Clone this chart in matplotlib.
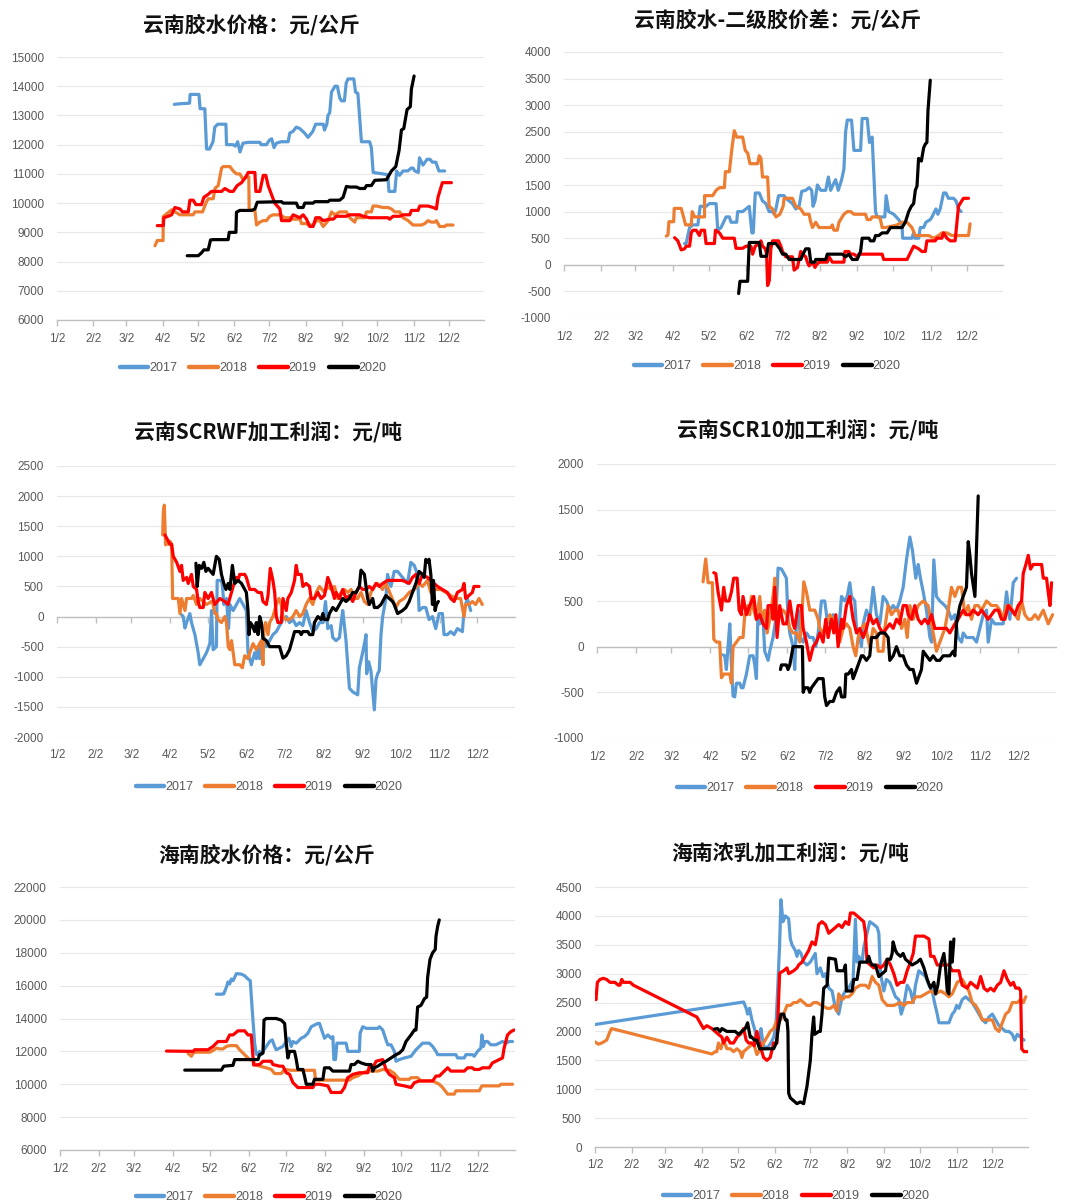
import matplotlib
matplotlib.use("Agg")
import matplotlib.pyplot as plt
from matplotlib import font_manager
from matplotlib.lines import Line2D
import numpy as np

# ---------------------------------------------------------------- fonts
_names = {f.name for f in font_manager.fontManager.ttflist}
if "Liberation Sans Narrow" in _names:
    NUM_FONT, NUM_SIZE = "Liberation Sans Narrow", 10
else:
    NUM_FONT, NUM_SIZE = "Liberation Sans", 8.5
plt.rcParams["font.family"] = [NUM_FONT, "Noto Sans CJK SC", "DejaVu Sans"]
plt.rcParams["axes.unicode_minus"] = False
TITLE_FAMILY = ["Noto Sans CJK SC", "DejaVu Sans"]

# ---------------------------------------------------------------- shared axis data
YEARS = ["2017", "2018", "2019", "2020"]
COLORS = ["#5B9BD5", "#ED7D31", "#FF0000", "#000000"]
MONTH_DAYS = [2, 33, 61, 92, 122, 153, 183, 214, 245, 275, 306, 336]   # day of year of each "m/2"
MONTH_LABELS = ["1/2", "2/2", "3/2", "4/2", "5/2", "6/2", "7/2", "8/2", "9/2", "10/2", "11/2", "12/2"]

# ---------------------------------------------------------------- 云南胶水价格 (day of year, 元/公斤)
yn_price_2017 = [(102,13380),(107,13400),(115,13420),(115.5,13720),(123,13720),(124,13230),(128,13230),(129.5,11850),(132,11850),(135,12100),(136.5,12600),(139,12700),(146,12700),(146.5,12000),(152,12000),(154,11950),(156,12100),(158,11750),(160.5,12050),(165,12080),(175,12080),(176,12000),(180.5,12000),(183,12150),(185,12200),(187,11900),(189,12050),(193,12100),(199,12100),(200.5,12400),(203,12450),(206,12600),(209,12550),(213,12400),(216,12250),(219,12400),(220,12450),(222.5,12700),(229,12700),(230,12500),(232,12700),(233,13000),(234.5,13100),(236,13800),(239,14000),(241,14000),(243,13600),(244.5,13500),(247,13500),(248.5,14100),(250,14250),(255,14250),(256.5,13800),(258.5,13750),(261.5,12100),(268.5,12100),(270,11900),(271.5,11050),(283,10980),(284,10950),(285,10400),(290,10400),(291.5,11100),(294,10950),(297,11100),(301,11100),(304,11200),(305.5,11200),(307,11100),(310,11050),(311,11550),(314,11300),(317.5,11500),(320,11500),(322,11400),(325,11400),(327.5,11100),(332.5,11100)]
yn_price_2018 = [(85.5,8540),(87.5,8720),(92.4,8720),(92.6,9540),(99.7,9770),(106.8,9600),(118.1,9600),(119.5,9700),(126.1,9700),(128.9,10000),(130.9,10150),(135.2,10150),(136.6,10500),(139.4,10600),(142.3,11200),(143.7,11250),(149.4,11250),(152.2,11100),(155,11000),(157.9,11000),(160.7,10800),(163.6,10900),(165.5,10900),(165.8,9800),(167,9750),(170.7,9750),(172.1,9250),(174.9,9350),(177.8,9400),(180.6,9400),(183.4,9550),(186.3,9600),(192,9600),(196.2,9500),(200.5,9500),(203.3,9450),(207.6,9450),(209,9500),(210.4,9300),(214.7,9300),(216.1,9250),(220.3,9250),(223.2,9400),(226,9400),(228.9,9200),(233.1,9400),(236,9700),(238.8,9600),(243,9700),(248.7,9700),(251.6,9500),(255.8,9350),(257.2,9500),(264.3,9500),(265.8,9700),(270,9700),(271.4,9900),(274.3,9900),(279.9,9850),(284.2,9850),(287.1,9800),(289.9,9700),(294.2,9700),(297,9500),(301.3,9400),(305.5,9250),(312.6,9250),(315.5,9300),(318.3,9400),(321.1,9350),(324,9350),(325.4,9400),(328.2,9200),(332.5,9200),(333.9,9250),(339.6,9250)]
yn_price_2019 = [(87.5,9230),(92.6,9230),(93.1,9500),(96.8,9550),(99.7,9600),(102.5,9850),(106.8,9800),(109,9700),(113.9,9700),(115.3,10100),(118.1,10100),(120.4,9950),(125.2,9950),(127.2,10200),(130.9,10300),(133.7,10400),(142.3,10400),(145.1,10500),(149.4,10400),(152.2,10400),(155.6,10600),(159.3,10700),(163,10900),(165,11050),(170.7,11050),(171.5,10400),(174.9,10400),(177.8,10950),(180,10950),(182,10600),(184.8,10300),(187.6,10000),(192,9800),(193.4,9400),(200.5,9400),(203.3,9600),(209,9500),(211.8,9600),(214.7,9450),(217.5,9200),(220.3,9200),(222.6,9500),(226,9500),(228.9,9400),(234.5,9450),(237.4,9450),(240.2,9550),(248.7,9550),(251.6,9600),(260.1,9600),(262.9,9550),(268.6,9500),(284.2,9500),(285.6,9450),(288.5,9550),(294.2,9550),(297,9600),(302.7,9600),(304.1,9750),(309.8,9750),(311.2,9900),(318.3,9900),(322.6,9850),(325.4,9800),(326.8,10200),(330.5,10700),(338.2,10700)]
yn_price_2020 = [(113,8200),(122.4,8200),(125.2,8300),(127.2,8400),(130.9,8400),(132.9,8740),(135.2,8750),(147.9,8750),(148.8,9000),(154.5,9000),(155,9690),(157.9,9750),(167.8,9750),(170.7,9800),(172.7,10030),(193.4,10050),(194.8,10000),(206.1,10000),(207.6,9850),(211.8,9850),(213.2,10000),(220.3,10000),(221.8,10050),(233.1,10050),(234.5,10100),(243,10100),(245.9,10200),(248.7,10570),(251.6,10550),(257.2,10550),(260.1,10500),(264.3,10500),(265.8,10600),(270,10600),(272.9,10780),(282.8,10800),(287.1,11100),(290.8,11250),(293.6,11800),(295.6,12500),(297.6,12550),(300.4,13200),(303.2,13300),(304.1,13900),(306.4,14350)]

# ---------------------------------------------------------------- 云南胶水-二级胶价差
yn_spread_2017 = [(101.9,400),(103.3,400),(106.1,700),(108.8,750),(113,750),(114.9,1100),(119.8,1100),(122.6,1150),(128.1,1150),(129.5,650),(132.2,700),(136.4,900),(139.1,900),(140.5,800),(145.2,800),(146,1000),(150.1,1000),(152.9,1050),(155.6,1100),(157.8,600),(158.9,600),(160.6,1350),(163.9,1350),(166.6,1200),(169.4,1150),(172.1,1000),(174.9,1000),(176.3,950),(177.7,1050),(179.9,1300),(184.5,1300),(185.9,1250),(188.7,1200),(191.4,1150),(194.2,1050),(196.9,1100),(199.1,1380),(202.4,1400),(205.2,1450),(207.4,1400),(208.5,1100),(210.1,1200),(212.1,1500),(214.8,1400),(219,1400),(221.2,1650),(223.1,1400),(225,1500),(227.2,1600),(229.4,1400),(232.2,1600),(234.1,1800),(235.5,2500),(236.9,2720),(240.4,2720),(242.4,2150),(247.9,2150),(249.2,2750),(253.4,2750),(255.3,2300),(257.5,2400),(260.3,1000),(261.6,900),(268,900),(269.1,1300),(271.2,1000),(275.4,950),(279.5,850),(282.3,750),(282.8,500),(290.5,500),(291.9,600),(292.8,500),(296.1,500),(297.4,700),(300.2,700),(302.1,800),(305.7,850),(307.1,900),(310.4,1050),(312,950),(313.9,1050),(316.7,1350),(318.6,1350),(320.8,1250),(325,1250),(327.1,1200),(329.1,1050),(331.3,1000)]
yn_spread_2018 = [(86.8,540),(88.2,560),(89,810),(92.9,810),(93.4,1060),(99.2,1060),(101.1,900),(102.8,750),(107.5,750),(108.3,1000),(110.2,900),(118.5,900),(118.6,1300),(125.3,1300),(128.1,1400),(130.9,1450),(135,1450),(135.8,1750),(139.1,1750),(141.3,2200),(143.2,2520),(145.2,2400),(150.1,2400),(152.3,2150),(154.3,2100),(156.2,1900),(162.5,1900),(163.9,2050),(165.3,2000),(166.6,1650),(170.8,1650),(172.1,1100),(174.9,1050),(177.7,900),(181,950),(183.7,1100),(184.5,1250),(191.4,1250),(194.2,1100),(198.3,1050),(201.1,950),(205.2,950),(206.6,800),(208,700),(210.7,800),(213.5,700),(223.1,700),(224.5,750),(225.8,650),(228.6,650),(230,800),(234.1,950),(236.9,1000),(239.6,1000),(242.4,950),(252,950),(253.4,850),(256.1,850),(257.5,900),(263,900),(264.4,850),(265.8,700),(268.5,700),(278.2,750),(282.3,800),(286.4,800),(290.5,700),(293.3,550),(304.3,550),(308.4,500),(312.6,550),(315.3,600),(319.5,600),(323.6,550),(337.4,550),(338.7,770)]
yn_spread_2019 = [(93.7,510),(96.4,450),(99.2,280),(101.9,300),(103.3,350),(106.1,350),(107.5,600),(108.8,650),(111.6,650),(114.3,550),(115.7,650),(118.5,650),(119.8,400),(126.7,400),(127.6,650),(130.9,600),(133.6,500),(143.2,500),(144.6,310),(150.1,310),(152.9,350),(157,350),(158.4,200),(160.6,350),(163.9,400),(165.3,450),(166.6,350),(168.9,300),(170,200),(170.8,-390),(172.2,-300),(173.5,300),(174.9,450),(179.9,450),(181.8,350),(183.2,250),(185.9,150),(191.4,150),(192.8,-100),(195.6,-50),(196.9,100),(198.3,250),(199.7,200),(202.4,150),(203.8,50),(205.2,-20),(208,50),(210.1,-50),(211.3,0),(213.5,50),(220.3,50),(221.7,150),(224.5,50),(234.1,50),(234.9,250),(238.2,250),(239.6,200),(242.4,200),(245.1,150),(246.5,200),(265.8,200),(267.1,100),(286.4,100),(291.9,350),(296.1,300),(298.8,250),(301.6,250),(302.9,450),(309.8,450),(311.2,500),(315.3,500),(316.7,600),(319.5,500),(322.2,450),(326.3,450),(329.1,1100),(331.8,1200),(333.2,1250),(337.4,1250)]
yn_spread_2020 = [(146.8,-540),(147.9,-310),(154.3,-310),(155.6,420),(163.9,420),(165.3,160),(170,160),(171.6,400),(177.7,400),(181,300),(183.2,200),(185.9,200),(188.7,100),(198.3,100),(200.2,200),(202.4,300),(205.2,300),(206.6,50),(210.1,50),(210.7,100),(219,100),(220.3,200),(232.7,200),(235.5,150),(238.2,200),(241,100),(245.1,100),(247.9,250),(249.2,500),(254.8,500),(256.1,450),(258.9,450),(260.3,550),(263,550),(265.8,600),(269.9,600),(272.7,700),(282.3,700),(285,800),(287.8,1000),(290,1100),(291.9,1150),(293.3,1400),(294.7,1480),(296,2000),(298.3,1950),(300.2,2200),(301.6,2270),(302.9,2300),(303.8,2900),(305.7,3470)]

# ---------------------------------------------------------------- 云南SCRWF加工利润
yn_scrwf_2017 = [(101,30),(102.3,0),(103.7,-190),(105,-100),(107.6,50),(108.9,-100),(111.6,-300),(114.2,-600),(115.5,-800),(118.2,-700),(120.8,-600),(123.5,-450),(124.8,100),(126.1,-550),(128.7,-500),(129.3,600),(132.7,600),(133.5,500),(134.6,200),(136.7,300),(138.3,-200),(139.4,200),(142,100),(144.6,200),(147.2,300),(149.9,200),(152.5,100),(153.8,-600),(156.5,-800),(159.1,-600),(160.4,-700),(161.8,-500),(163.1,-700),(165.7,-300),(168.4,-500),(171,-400),(173.6,-300),(176.3,-250),(178.9,-150),(181.6,-50),(184.2,0),(186.8,-100),(189.5,-50),(192.1,-150),(194.8,-100),(197.4,-150),(200,100),(202.7,-100),(205.3,-250),(208,-200),(210.6,-100),(213.3,-100),(215.4,250),(217.2,-200),(219.9,-150),(221.2,-350),(223.8,-400),(226.5,-350),(227.8,-100),(229.1,100),(231.7,-400),(234.4,-1190),(237,-1250),(241,-1300),(242.3,-850),(244.9,-600),(246.8,-400),(247.6,-300),(248.1,-950),(249.7,-750),(251.5,-900),(254.2,-1550),(255.5,-1050),(256.8,-950),(258.1,-900),(259.5,-300),(260.8,0),(263.4,300),(264.7,700),(267.4,500),(270,750),(272.7,750),(276.6,650),(280.6,550),(283.2,900),(285.9,850),(288.5,700),(289.8,100),(292.5,150),(295.1,150),(297.7,-50),(300.4,0),(303,-200),(305.7,50),(308.3,50),(309.6,-300),(312.3,-300),(314.9,-250),(317.6,-300),(320.2,-200),(324.2,-250),(325.5,100),(328.1,300),(330.8,100)]
yn_scrwf_2018 = [(86,1355),(86.5,1740),(87.3,1850),(88.3,1190),(89.1,1250),(90.5,1200),(91.8,1250),(93.1,1200),(93.9,300),(98.4,300),(99.7,50),(101,300),(103.7,100),(105,300),(109,300),(110.3,350),(112.9,200),(115.5,300),(120.8,200),(124.8,250),(126.1,200),(127.4,50),(128.7,50),(130.1,-50),(132.7,-100),(135.4,0),(136.7,-100),(138.1,-500),(139.4,-550),(140.7,-400),(142,-600),(143.3,-800),(147.2,-800),(149.3,-850),(151.2,-650),(153.8,-700),(155.2,-600),(157.8,-450),(160.4,-550),(164.4,-400),(165.7,-800),(166.5,-200),(167.8,-100),(169.7,-300),(171,-100),(173.6,0),(176.3,200),(178.4,300),(180.2,200),(181.6,0),(184.2,-50),(186.8,-50),(189.5,0),(192.1,100),(194.8,0),(197.4,50),(200,200),(202.7,300),(205.3,200),(208,400),(210.6,500),(214.6,400),(217.2,500),(219.9,450),(222.5,500),(225.1,300),(227.8,400),(230.4,450),(233.1,400),(235.7,450),(238.3,300),(241,300),(243.6,400),(246.3,250),(248.9,200),(251.5,400),(254.2,500),(256.8,550),(260.8,450),(263.4,550),(267.4,350),(271.3,150),(274,250),(277.9,300),(281.9,400),(285.9,450),(289.8,550),(292.5,500),(296.4,600),(299.1,400),(303,450),(307,450),(311,400),(314.9,350),(318.9,300),(322.8,300),(325.5,0),(326.8,200),(329.4,200),(332.1,250),(334.7,200),(337.4,300),(340,200)]
yn_scrwf_2019 = [(87.8,1355),(90.5,1250),(91.8,1200),(93.1,1200),(94.4,1000),(97.1,900),(99.7,750),(101,850),(102.3,600),(105,650),(106.3,550),(108.9,700),(110.3,500),(112.9,450),(114.2,250),(115.5,150),(118.2,150),(119.5,400),(122.1,300),(124.8,400),(127.4,200),(131.4,300),(135.4,250),(138,200),(139.3,300),(142,500),(144.6,650),(145.9,600),(147.2,700),(151.2,700),(152.5,650),(155.2,450),(159.1,450),(161.8,400),(164.4,400),(165.7,250),(168.4,200),(169.7,350),(171.5,800),(173.6,600),(175,400),(176.3,0),(177.6,-100),(180.2,-100),(181.6,300),(184.2,100),(185.5,300),(188.2,400),(190.8,600),(192.1,850),(193.4,700),(196.1,700),(197.4,500),(200,550),(202.7,500),(204,300),(206.6,300),(209.3,400),(211.9,300),(214.6,350),(217.2,650),(219.9,500),(222.5,300),(223.8,400),(226.5,300),(229.1,450),(231.7,300),(234.4,350),(237,250),(239.7,400),(242.3,500),(244.9,450),(247.6,450),(250.2,500),(252.9,450),(255.5,550),(258.1,500),(260.8,550),(264.7,600),(276.6,600),(281.9,550),(284.5,650),(287.2,700),(289.8,550),(292.5,700),(296.4,650),(299.1,600),(301.7,550),(304.4,500),(308.3,450),(312.3,400),(314.9,300),(317.6,250),(320.2,400),(324.2,450),(325.5,550),(326.8,300),(329.4,350),(332.1,400),(333.4,500),(337.4,500)]
yn_scrwf_2020 = [(112.4,885),(113.4,500),(115,850),(116.9,800),(118.7,900),(120.3,750),(122.1,800),(126.1,700),(128.7,1000),(130.9,950),(132.7,700),(134.6,550),(136.3,450),(138.1,550),(139.4,450),(141.4,850),(143.3,550),(145.9,600),(148.6,550),(151.2,450),(152.5,400),(153.8,100),(154.6,-300),(155.7,-100),(157.3,-150),(159.1,-250),(160.4,-100),(161.8,-300),(163.1,0),(164.4,-100),(165.7,-360),(168.4,-400),(171,-500),(178.9,-500),(181.6,-690),(184.2,-650),(186.8,-550),(189.5,-350),(190.8,-250),(194.8,-250),(196.1,-300),(197.4,-250),(201.4,-250),(202.7,-300),(205.3,-300),(206.6,-100),(209.3,0),(211.9,-50),(213.3,50),(214.6,-50),(217.2,-50),(218.5,50),(221.2,150),(223.8,100),(226.5,200),(229.1,300),(231.7,250),(234.4,300),(237,400),(239.7,400),(242.3,500),(243.6,770),(246.3,700),(247.6,500),(248.9,300),(250.2,200),(252.9,300),(254.2,150),(256.8,150),(259.5,200),(262.1,300),(263.4,350),(266.1,300),(268.7,250),(270,200),(272.7,50),(276.6,100),(279.3,150),(281.9,250),(284.5,400),(287.2,550),(289.8,750),(292.5,700),(293.8,650),(295.1,950),(296.4,900),(297.7,950),(299.1,700),(300.4,200),(301.2,600),(302.5,100),(303.6,200),(305.1,250)]

# ---------------------------------------------------------------- 云南SCR10加工利润
yn_scr10_2017 = [(102,-90),(103.3,-100),(104.6,-250),(105.9,0),(107.3,250),(108.6,-200),(109.9,-540),(111.2,-550),(112.6,-400),(115.2,-400),(116.5,-450),(117.8,-450),(120.5,-300),(123.1,-100),(125.8,-100),(127.1,-200),(128.4,-350),(129.7,400),(131.1,250),(133.7,300),(135,-50),(137.7,-150),(139,-50),(141.6,100),(143.8,300),(145.6,860),(148.3,850),(152.2,750),(153.5,300),(154.9,150),(157.5,0),(158.8,-250),(160.2,300),(161.5,400),(163.3,100),(165.5,50),(168.1,150),(170.7,100),(173.4,100),(175.5,0),(177.4,150),(180,500),(182.6,500),(184.5,300),(186.6,250),(189.3,350),(191.9,200),(193.2,100),(195.9,550),(198.5,500),(200.4,550),(202.5,700),(203.8,550),(206.4,500),(207.8,200),(210.4,100),(211.7,0),(213.1,250),(215.7,400),(218.3,300),(221,650),(223.6,350),(226.3,250),(228.9,550),(231.6,500),(234.2,400),(236.9,450),(239.5,400),(242.1,500),(244.8,650),(247.4,950),(250.1,1200),(252.2,1050),(254.8,750),(256.7,900),(258.5,750),(260.7,600),(263.3,400),(266,100),(267.3,50),(269.1,950),(271.2,550),(273.9,500),(277.9,450),(280.5,400),(283.1,300),(285.8,350),(288.4,100),(291.1,50),(292.4,150),(295,100),(297.7,100),(300.3,100),(303,50),(305.6,200),(308.3,350),(310.9,400),(312.2,50),(314.9,300),(317.5,250),(320.2,250),(324.1,250),(326.8,600),(329.4,300),(332.1,700),(334.7,750)]
yn_scr10_2018 = [(86.1,710),(88.2,960),(90.1,700),(93.5,700),(94.6,80),(96.7,50),(99.3,50),(100.7,-340),(102.5,-300),(107.3,-300),(108.6,-400),(109.9,0),(112.6,50),(115.2,100),(117.8,100),(119.2,350),(121.8,450),(123.1,350),(124.5,550),(126.3,400),(128.4,300),(131.1,550),(132.4,300),(135,400),(136.9,150),(139,300),(141.6,550),(143,750),(144.8,300),(146.9,400),(149.6,400),(152.2,350),(154.9,200),(157.5,150),(160.2,150),(162.8,50),(164.9,450),(166,710),(168.1,600),(170.7,400),(174.7,400),(177.4,300),(178.7,200),(181.3,150),(184,250),(186.6,350),(189.3,300),(191.9,200),(194.5,50),(197.2,200),(199.8,250),(202.5,200),(205.1,0),(207.2,-100),(209.1,100),(211.7,200),(214.4,250),(218.3,0),(221,200),(223.6,150),(225,-50),(228.9,-50),(230.2,200),(232.9,450),(235.5,350),(238.2,400),(240.8,400),(243.5,200),(246.1,300),(248,100),(250.1,450),(252.7,300),(256.7,450),(260.7,500),(264.6,450),(267.3,250),(269.9,50),(271.2,-50),(273.9,50),(277.9,200),(280.5,400),(283.1,650),(285.8,550),(288.4,650),(291.1,650),(293.7,350),(296.4,450),(299,300),(301.7,450),(304.3,450),(307,400),(310.9,500),(314.9,450),(318.8,450),(321.5,400),(324.1,300),(326.8,450),(329.4,450),(333.4,350),(336,300),(338.7,500),(341.3,350),(344,300),(346.6,300),(349.3,350),(351.9,300),(355.9,400),(359.8,250),(363.3,350)]
yn_scr10_2019 = [(94.6,810),(96.2,800),(98,600),(100.7,400),(102.5,650),(104.1,500),(106.7,500),(108.6,600),(110.4,750),(113.1,750),(114.7,400),(116.5,350),(117.8,550),(120.5,350),(123.1,450),(126.3,550),(128.4,300),(131.1,350),(133.7,250),(136.4,200),(137.7,450),(140.3,450),(141.6,300),(143,650),(144.8,100),(146.9,450),(149.6,250),(152.2,250),(154.9,500),(157.5,250),(158.8,200),(161.5,450),(164.1,450),(165.5,200),(168.1,50),(170.7,-150),(173.4,0),(176,50),(178.7,150),(181.3,50),(183.4,300),(185.3,100),(187.9,300),(189.8,150),(191.4,350),(193.2,0),(195.9,300),(197.2,200),(199.8,450),(202.5,550),(205.1,300),(207.8,150),(210.4,200),(213.1,100),(215.7,200),(218.3,350),(221,250),(223.6,300),(226.3,200),(228.9,150),(231.6,200),(234.2,250),(236.9,200),(239.5,300),(242.1,250),(244.8,450),(247.4,450),(248.8,350),(251.4,300),(254,450),(256.7,300),(259.3,250),(262,300),(264.6,250),(267.3,350),(269.9,200),(273.9,200),(279.2,200),(281.8,150),(285.8,250),(288.4,300),(292.4,400),(295,350),(297.7,350),(300.3,400),(304.3,350),(307,400),(309.6,350),(312.2,300),(314.9,350),(317.5,400),(320.2,400),(322.8,300),(325.5,300),(328.1,450),(330.8,400),(333.4,350),(336,450),(338.7,500),(340,800),(342.1,900),(344,1000),(345.8,850),(347.9,900),(354.6,900),(355.9,750),(358.5,750),(359.8,600),(361.2,450),(362.5,700)]
yn_scr10_2020 = [(147.5,-250),(148.3,-200),(152.2,-200),(153.5,-250),(154.9,-200),(156.2,-100),(157.5,0),(164.9,0),(165.5,-500),(166.8,-450),(169.4,-450),(170.7,-500),(172.1,-450),(174.7,-400),(177.4,-350),(181.3,-350),(182.6,-550),(184,-645),(186.6,-600),(189.3,-600),(191.9,-500),(194.5,-450),(195.9,-550),(198.5,-550),(199.3,-300),(201.2,-300),(203.8,-250),(205.1,-350),(207.8,-250),(210.4,-150),(211.7,-100),(213.1,-100),(215.7,-150),(218.3,-100),(219.7,100),(223.6,100),(226.3,150),(230.2,150),(232.9,100),(234.2,-150),(236.9,-100),(239.5,0),(242.1,-100),(244.8,-100),(247.4,-200),(250.1,-250),(252.7,-250),(255.4,-400),(256.7,-350),(259.3,-250),(260.7,-50),(263.3,-100),(266,-150),(268.6,-100),(271.2,-150),(273.9,-150),(276.5,-100),(279.2,-100),(281.8,-100),(284.5,-50),(285.8,-100),(287.1,250),(289.8,450),(292.4,550),(295,650),(296.4,1150),(297.7,1000),(299,800),(301.7,550),(303,1100),(304.3,1650)]

# ---------------------------------------------------------------- 海南胶水价格
hn_price_2017 = [(127.1,15480),(131.9,15480),(133,15500),(135.1,15900),(136.4,16230),(137.7,16100),(139.1,16400),(140.4,16300),(141.7,16500),(143.1,16730),(147.1,16700),(149.7,16600),(152.4,16400),(154.2,16300),(155.8,14500),(157.7,12500),(159,11830),(160.4,11800),(161.7,12000),(163,11800),(164.4,12000),(167,12300),(169.7,12600),(171.8,12700),(173.7,12300),(175,12100),(177.7,12200),(180.3,12300),(183,12600),(185.1,12800),(187,12300),(188.3,12600),(191,12500),(192.3,12600),(195,12800),(197.6,12900),(200.3,13100),(203,13500),(205.6,13600),(208.3,13700),(209.6,13700),(210.9,13400),(213.6,12800),(216.3,13000),(218.9,12800),(220.3,12900),(221.1,11500),(222.4,11500),(223.5,12500),(230.9,12500),(232.2,12000),(241.5,12000),(242.1,13100),(244.2,13500),(246.9,13400),(256.2,13400),(257.6,13500),(260.2,13300),(261.5,13000),(262.8,12700),(264.2,12400),(266.8,12400),(269.5,12000),(270.8,11400),(273.5,11500),(277.5,11600),(282.8,11700),(286.8,12100),(289.5,12300),(292.1,12500),(297.4,12500),(300.1,12300),(302.8,12000),(304.1,11800),(308.1,11800),(318.7,11800),(320.1,11600),(325.4,11600),(326.7,11800),(332,11800),(333.4,11700),(336,12000),(338.7,12200),(339.5,13000),(340.6,12300),(342.2,12600),(344,12600),(346.7,12400),(350.7,12400),(353.3,12500),(356,12600),(358.7,12500),(361.3,12600),(364,12600)]
hn_price_2018 = [(104.5,11880),(107.1,11700),(108.5,11900),(111.1,11950),(121.8,11950),(124.4,12050),(127.1,12200),(129.8,12150),(132.4,12150),(135.1,12300),(137.7,12350),(143.1,12350),(145.7,12100),(148.4,11900),(151,11700),(153.7,11500),(156.4,11500),(157.7,11200),(161.7,11100),(167,11000),(171,10900),(173.7,10650),(179,10650),(181.7,10900),(187,10850),(205.6,10850),(206.4,10250),(233.6,10250),(236.2,10400),(240.2,10500),(244.2,10700),(248.2,10800),(256.2,10800),(260.2,10900),(265.6,10850),(269.5,10650),(272.2,10400),(273.5,10300),(281.5,10300),(282.8,10400),(288.1,10400),(290.8,10200),(300.1,10200),(305.4,10000),(308.1,9800),(312.1,9400),(317.4,9400),(318.7,9600),(337.4,9600),(339.5,9900),(353.3,9900),(354.7,10000),(364,10000)]
hn_price_2019 = [(87.2,12020),(108.5,12000),(109.8,12100),(120.4,12100),(124.4,12300),(128.4,12600),(135.1,12600),(137.7,13000),(140.4,13000),(144.4,13250),(149.7,13250),(152.4,13000),(155,13000),(156.9,11170),(161.7,11200),(164.4,11400),(171,11400),(172.3,11200),(177.7,11100),(180.3,11100),(183,10700),(185.7,10600),(188.3,10100),(192.3,9800),(204.3,9800),(205.6,10000),(209.6,10000),(216.3,9900),(218.9,9500),(226.9,9500),(229.6,9800),(232.2,10400),(236.2,10600),(241.5,10700),(248.2,10700),(249.5,11100),(252.2,11000),(254.9,11400),(260.2,11500),(262.8,10900),(265.5,10600),(269.5,10400),(270.8,10000),(277.5,9900),(282.8,9800),(285.5,10100),(289.5,10200),(300.1,10200),(302.8,10500),(305.4,10500),(308.1,10700),(312.1,11000),(314.7,10800),(325.4,10800),(328.1,11000),(332,11000),(333.4,10900),(337.4,10900),(340,11000),(345.4,11000),(348,11300),(353.3,11500),(356,11600),(357.3,12200),(360,13000),(362.7,13200),(365.3,13300)]
hn_price_2020 = [(101.8,10860),(131.1,10860),(133,11100),(140.4,11150),(141.7,11500),(156.4,11500),(160.4,11500),(161.7,11800),(164.4,11900),(165.2,13900),(167,14000),(175,14000),(179,13900),(181.7,13700),(183,12500),(184.3,11600),(185.7,12000),(189.6,12000),(191,11500),(192.3,10900),(196.3,10900),(197.6,10500),(199,10000),(204.3,10000),(205.6,10300),(212.3,10300),(213.6,11000),(217.6,11000),(220.3,10800),(233.6,10800),(234.9,11200),(237.6,11200),(240.2,11400),(242.9,11300),(246.9,11200),(250.9,11200),(252.2,10800),(253.5,11000),(256.2,11100),(260.2,11300),(262.8,11400),(266.8,11600),(270.8,11800),(273.5,11900),(276.2,12100),(278.8,12600),(282.8,13000),(285.5,13300),(286.8,13300),(288.1,14700),(290.8,14800),(293.5,15200),(295.3,15300),(296.1,16500),(298,17600),(300.1,18000),(302.2,18200),(302.8,19000),(304.1,19600),(305.4,20000)]

# ---------------------------------------------------------------- 海南浓乳加工利润
hn_latex_2017 = [(2,2120),(126.9,2510),(129.1,2400),(130.3,2300),(131.9,2400),(133.9,2200),(136.7,2000),(138.1,1800),(140.4,1900),(141.5,2050),(143.2,1800),(145.1,1700),(148,1750),(149.9,1800),(152.2,1900),(154.1,2100),(155.5,2700),(157.2,3500),(158.3,4280),(160,3900),(162,4000),(164.8,3950),(166.2,3600),(167.6,3500),(170.4,3400),(171.8,3300),(173.2,3400),(175.2,3350),(177.4,3200),(180.2,3150),(183,3200),(185.8,3300),(187.2,3350),(188.6,3000),(191.4,3100),(193.7,2950),(195.6,3000),(198.5,2750),(201.3,2700),(204.1,2400),(206.9,2300),(209.7,2600),(212.5,2700),(215.3,2750),(219,2900),(220.9,3940),(222.3,3200),(223.7,3300),(226.5,3200),(227.9,3450),(230.7,3700),(233,3900),(236.4,3850),(239.2,3800),(240.6,3700),(242,3000),(244.8,2700),(247,2900),(249.8,2850),(251.8,2750),(254.6,2600),(257.4,2550),(259.4,2300),(261.6,2450),(264.4,2800),(267.2,2700),(269.5,2500),(271.4,2800),(274.2,3050),(277.1,3000),(279.9,2950),(282.7,2800),(285.5,2700),(287.4,2500),(289.7,2300),(291.1,2150),(299.5,2150),(302.3,2300),(304.3,2350),(306,2450),(307.9,2400),(310.7,2550),(313.5,2600),(316.3,2550),(319.1,2500),(322,2400),(324.8,2300),(327.6,2200),(330.4,2150),(333.2,2250),(336,2300),(338.8,2200),(341.6,2100),(344.4,2050),(347.2,2000),(350,2000),(352.8,1950),(354.8,1850),(357,1950),(359.8,1900),(362.7,1850)]
hn_latex_2018 = [(2,1820),(4.8,1780),(7.6,1800),(11.8,1850),(14.6,2000),(16,2050),(100.2,1610),(103,1650),(104.4,1650),(105.8,1800),(107.8,1700),(110.1,1850),(112.9,1700),(115.7,1700),(118.5,1650),(121.3,1700),(124.1,1650),(125.5,1550),(126.9,1650),(129.7,1700),(132.5,1750),(135.3,1800),(138.1,1600),(140.9,1700),(143.7,1800),(146.5,1900),(149.3,2000),(152.2,2050),(155,2200),(157.8,2200),(160.6,2300),(163.4,2450),(166.2,2450),(169,2500),(171.8,2500),(174.6,2550),(177.4,2500),(180.2,2450),(183,2450),(185.8,2500),(188.6,2500),(192.8,2450),(197.1,2400),(199.9,2400),(202.7,2450),(205.5,2350),(206.9,2650),(209.7,2550),(212.5,2600),(215.3,2600),(218.1,2650),(220.9,2750),(225.1,2800),(229.3,2800),(232.1,2750),(235,2950),(237.8,2850),(240.6,2800),(243.4,2550),(247.6,2450),(253.2,2450),(258.8,2500),(261.6,2450),(264.4,2500),(268.6,2500),(271.4,2600),(275.6,2600),(279.9,2650),(284.1,2700),(288.3,2650),(292.5,2700),(296.7,2650),(299.5,2600),(302.3,2650),(306.5,2850),(310.7,2900),(313.5,2800),(316.3,2700),(319.1,2500),(322,2450),(324.8,2350),(327.6,2200),(331.8,2200),(336,2200),(338.8,2050),(341.6,2000),(344.4,2150),(347.2,2300),(350,2350),(352.8,2500),(357,2500),(359.8,2550),(362.1,2500),(364.1,2600)]
hn_latex_2019 = [(2,2600),(2.8,2550),(4,2850),(6.2,2900),(9,2920),(11.8,2900),(14.6,2850),(18.8,2850),(21.6,2800),(23,2800),(24.5,2900),(25.9,2850),(31.5,2850),(34.3,2800),(87.6,2250),(89,2200),(91.8,2100),(93.2,2050),(96,2100),(100.2,2050),(103,2000),(105.8,1950),(108.7,1900),(110.1,1800),(112.9,1900),(115.7,1800),(118.5,1800),(121.3,1900),(124.1,1950),(126.9,2050),(129.1,1850),(131.1,1800),(133.9,1800),(135.9,1750),(138.1,2000),(140.9,1750),(143.7,1550),(146.5,1500),(149.3,1550),(152.2,1800),(155,1800),(157.2,3010),(160.6,3050),(163.4,3100),(164.8,3000),(169,3050),(171.8,3100),(173.2,3150),(176,3200),(178.8,3300),(181.6,3400),(184.4,3550),(187.2,3500),(188.6,3650),(190,3850),(192.8,3900),(195.7,3850),(198.5,3700),(201.3,3750),(204.1,3800),(206.9,3850),(209.7,3800),(212.5,3900),(215.3,3850),(216.7,4050),(219.5,4050),(222.3,4000),(225.1,3950),(227.9,3900),(229.3,3700),(230.7,3200),(233.5,3150),(236.4,3100),(239.2,3150),(242,3100),(244.8,3150),(247.6,3250),(250.4,3150),(253.2,3000),(256,2800),(258.8,2850),(261.6,2850),(264.4,3050),(267.2,3200),(269.5,3350),(271.4,3650),(275.6,3650),(278.5,3650),(282.7,3600),(284.1,3300),(286.9,3300),(289.7,3150),(299.5,3150),(302.3,3050),(307.9,3050),(310.7,2800),(314.9,2750),(317.7,2850),(320.6,2800),(323.4,2750),(326.2,2950),(329,2750),(331.8,2700),(334.6,2750),(337.4,2700),(340.2,2800),(343,2850),(345.8,3050),(348.6,2900),(351.4,2800),(353.7,2850),(355.6,2750),(358.4,2750),(359.8,2700),(360.7,1700),(362.7,1650),(365.5,1650)]
hn_latex_2020 = [(102.2,2040),(105,2050),(107.2,2000),(108.7,2050),(112.9,2000),(119.9,2000),(122.7,1950),(125.5,2000),(128.3,2050),(130.3,2150),(132.5,1900),(133.9,1900),(135.9,1850),(138.1,1850),(140.4,1700),(152.2,1700),(154.4,1800),(156.4,2100),(158.3,2300),(160.6,2300),(162,2200),(163.4,2200),(164.2,2000),(164.8,930),(166.2,850),(169,800),(171.8,750),(174.6,780),(177.4,750),(180.2,1050),(183,1500),(184.4,1950),(185.8,2250),(186.7,1950),(190,2000),(191.4,2000),(192.8,2300),(194.3,2750),(197.1,2800),(198.5,3270),(204.1,3250),(205.5,3050),(211.1,3050),(212.5,3150),(213.3,2700),(218.1,2700),(219.5,2900),(222.3,2900),(224.6,3200),(230.7,3200),(232.1,3300),(233.5,3200),(235,3150),(237.8,3150),(239.2,3050),(240.6,2950),(243.4,3000),(246.2,3050),(247.6,3250),(250.4,3250),(251.8,3350),(252.6,3550),(254.6,3400),(256,3350),(258.8,3300),(261,3350),(263,3250),(265.8,3200),(268.6,3150),(272.8,3200),(275.6,3250),(278.5,3100),(281.3,2900),(284.1,2750),(286.9,2850),(288.3,2650),(290.2,2800),(292.5,3150),(295.3,3350),(296.7,3100),(298.1,2700),(299.5,2650),(300.9,3550),(302.3,3200),(303.7,3600)]

# ---------------------------------------------------------------- drawing
W, H = 1067, 1202
fig = plt.figure(figsize=(W / 100, H / 100), dpi=100)
TICK_COLOR = "#595959"
AXIS_COLOR = "#BFBFBF"
GRID_COLOR = "#E8E8E8"


def px_rect(left, top, right, bottom):
    return [left / W, 1 - bottom / H, (right - left) / W, (bottom - top) / H]


def panel(rect, title, title_xy, series, ylim, ystep, axis_y, legend_xy):
    ax = fig.add_axes(px_rect(*rect))
    for pts, color in zip(series, COLORS):
        xs = [p[0] for p in pts]
        ys = [p[1] for p in pts]
        ax.plot(xs, ys, color=color, lw=2.3, solid_joinstyle="round",
                solid_capstyle="round", zorder=3)
    ax.set_xlim(2, 366)
    ax.set_ylim(*ylim)
    ax.set_yticks(np.arange(ylim[0], ylim[1] + 1, ystep))
    ax.yaxis.set_major_formatter(matplotlib.ticker.FuncFormatter(lambda v, _: f"{int(v)}"))
    ax.tick_params(axis="y", length=0, pad=9.5, labelsize=NUM_SIZE, labelcolor=TICK_COLOR)
    ax.yaxis.grid(True, color=GRID_COLOR, lw=0.9)
    ax.set_axisbelow(True)
    for side in ("left", "right", "top"):
        ax.spines[side].set_visible(False)
    # horizontal category axis crossing at axis_y, with outward tick marks
    ax.spines["bottom"].set_position(("data", axis_y))
    ax.spines["bottom"].set_color(AXIS_COLOR)
    ax.spines["bottom"].set_linewidth(1.0)
    ax.spines["bottom"].set_zorder(2)
    ax.set_xticks(MONTH_DAYS)
    ax.tick_params(axis="x", length=4, width=1, color=AXIS_COLOR, direction="out",
                   labelbottom=False)
    # month labels always sit below the plot area
    sec = ax.secondary_xaxis("bottom")
    sec.set_xticks(MONTH_DAYS, MONTH_LABELS)
    sec.tick_params(length=0, pad=9, labelsize=NUM_SIZE, labelcolor=TICK_COLOR)
    sec.spines["bottom"].set_visible(False)

    fig.text(title_xy[0] / W, 1 - title_xy[1] / H, title, ha="center", va="center",
             fontsize=15, fontweight="bold", family=TITLE_FAMILY, color="#111111")

    handles = [Line2D([], [], color=c, lw=3.2, solid_capstyle="round") for c in COLORS]
    ax.legend(handles, YEARS, loc="center", bbox_to_anchor=(legend_xy[0] / W, 1 - legend_xy[1] / H),
              bbox_transform=fig.transFigure, ncol=4, frameon=False, handlelength=2.3,
              handletextpad=0.05, columnspacing=1.0, fontsize=NUM_SIZE + 0.5,
              labelcolor=TICK_COLOR, borderaxespad=0, borderpad=0)
    return ax


panel((57, 57, 484, 320), "云南胶水价格：元/公斤", (251, 25),
      [yn_price_2017, yn_price_2018, yn_price_2019, yn_price_2020],
      (6000, 15000), 1000, 6000, (253, 368))
panel((564, 52, 1003, 318), "云南胶水-二级胶价差：元/公斤", (778, 20),
      [yn_spread_2017, yn_spread_2018, yn_spread_2019, yn_spread_2020],
      (-1000, 4000), 500, 0, (767, 366))
panel((57, 466, 515, 737), "云南SCRWF加工利润：元/吨", (268, 432),
      [yn_scrwf_2017, yn_scrwf_2018, yn_scrwf_2019, yn_scrwf_2020],
      (-2000, 2500), 500, 0, (269, 787))
panel((597, 464, 1056, 738), "云南SCR10加工利润：元/吨", (808, 430),
      [yn_scr10_2017, yn_scr10_2018, yn_scr10_2019, yn_scr10_2020],
      (-1000, 2000), 500, 0, (810, 788))
panel((60, 887, 515, 1150), "海南胶水价格：元/公斤", (267, 855),
      [hn_price_2017, hn_price_2018, hn_price_2019, hn_price_2020],
      (6000, 22000), 2000, 6000, (269, 1197))
panel((595, 887, 1028, 1147), "海南浓乳加工利润：元/吨", (790, 853),
      [hn_latex_2017, hn_latex_2018, hn_latex_2019, hn_latex_2020],
      (0, 4500), 500, 0, (796, 1196))

fig.savefig("out.png", dpi=100, facecolor="white")
